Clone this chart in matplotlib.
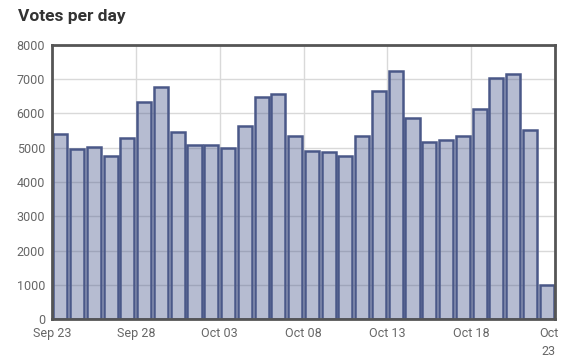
import numpy as np
import matplotlib.pyplot as plt
import matplotlib.transforms as mtransforms

plt.rcParams['font.family'] = ['Roboto', 'DejaVu Sans']

# votes per day, Sep 23 .. Oct 22
days = np.arange(30)
votes = [5400, 4970, 5020, 4770, 5290, 6330, 6770, 5450, 5090, 5090,
         4990, 5630, 6480, 6570, 5340, 4900, 4880, 4760, 5330, 6650,
         7240, 5860, 5175, 5220, 5330, 6120, 7050, 7165, 5520, 1000]
tick_pos = [0, 5, 10, 15, 20, 25, 30]
tick_labels = ['Sep 23', 'Sep 28', 'Oct 03', 'Oct 08', 'Oct 13', 'Oct 18', 'Oct\n23']
y_ticks = [0, 1000, 2000, 3000, 4000, 5000, 6000, 7000, 8000]

fig = plt.figure(figsize=(5.77, 3.57), dpi=100)
ax = fig.add_axes([52 / 577, 38 / 357, 503 / 577, 274 / 357])

ax.bar(days + 0.5, votes, width=0.84, color=(0.29, 0.35, 0.55, 0.4),
       edgecolor='#4a5888', linewidth=1.8, zorder=2)

ax.set_xlim(0, 30)
ax.set_ylim(0, 8000)
ax.set_xticks(tick_pos)
ax.set_xticklabels(tick_labels, va='top', linespacing=1.5)
ax.set_yticks(y_ticks)
ax.tick_params(length=0, labelsize=9, colors='#666666')
ax.tick_params(axis='x', pad=6)
ax.tick_params(axis='y', pad=5)
ax.grid(True, color='#d9d9d9', linewidth=1, zorder=0)
ax.set_axisbelow(True)
for s in ax.spines.values():
    s.set_color('#555555')
    s.set_linewidth(2)

# last label is pulled inside the canvas, like the original
last = ax.get_xticklabels()[-1]
last.set_transform(last.get_transform() + mtransforms.ScaledTranslation(-6 / 100, 0, fig.dpi_scale_trans))

fig.text(18 / 577, 1 - 17 / 357, 'Votes per day', fontsize=12.5,
         fontweight='bold', color='#333333', va='center', ha='left')

fig.savefig('out.png', dpi=100)
